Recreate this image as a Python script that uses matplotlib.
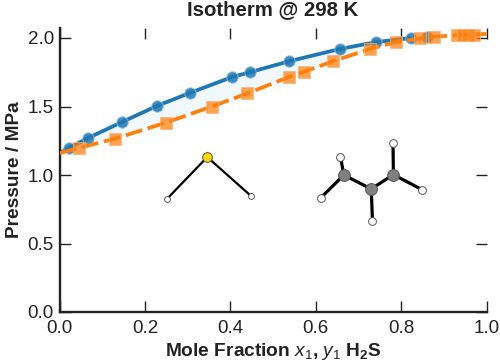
import matplotlib
matplotlib.use("Agg")
import matplotlib.pyplot as plt
import numpy as np

plt.rcParams['font.family'] = ['Liberation Sans', 'DejaVu Sans']
plt.rcParams['mathtext.fontset'] = 'custom'
plt.rcParams['mathtext.rm'] = 'Liberation Sans'
plt.rcParams['mathtext.it'] = 'Liberation Sans:italic'
plt.rcParams['mathtext.bf'] = 'Liberation Sans:bold'

x_liquid = [0.022, 0.067, 0.146, 0.228, 0.306, 0.404, 0.446, 0.537, 0.657, 0.741, 0.823, 0.861]
p_liquid = [1.197, 1.27, 1.386, 1.504, 1.60, 1.715, 1.75, 1.83, 1.92, 1.97, 2.0, 2.01]
x_vapor = [0.045, 0.13, 0.249, 0.357, 0.44, 0.537, 0.573, 0.64, 0.727, 0.787, 0.845, 0.877,
           0.93, 0.945, 0.957, 0.97]
p_vapor = [1.197, 1.265, 1.382, 1.50, 1.596, 1.715, 1.754, 1.83, 1.92, 1.97, 1.997, 2.01,
           2.02, 2.022, 2.024, 2.025]
x_start, p_start = 0.0, 1.16
x_end, p_end = 1.0, 2.03

xticks = [0.0, 0.2, 0.4, 0.6, 0.8, 1.0]
yticks = [0.0, 0.5, 1.0, 1.5, 2.0]

s_atom = (0.346, 1.131)
h2s_h = [(0.251, 0.823), (0.4485, 0.847)]
c_atoms = [(0.666, 1.0), (0.730, 0.898), (0.782, 1.003)]
c_h = [(0.658, 1.131), (0.612, 0.834), (0.733, 0.664), (0.781, 1.236), (0.849, 0.893)]
c_h_parent = [0, 0, 1, 2, 2]

BLUE = '#1f77b4'
ORANGE = '#ff7f0e'

fig = plt.figure(figsize=(5.0, 3.62), dpi=100)
ax = fig.add_axes([59.5 / 500, 1 - 312 / 362, 427 / 500, 284 / 362])

lx = np.array([x_start] + x_liquid + x_vapor[-1:] + [x_end])
ly = np.array([p_start] + p_liquid + p_vapor[-1:] + [p_end])
vx = np.array([x_start] + x_vapor + [x_end])
vy = np.array([p_start] + p_vapor + [p_end])

grid = np.union1d(lx, vx)
ax.fill_between(grid, np.interp(grid, lx, ly), np.interp(grid, vx, vy),
                color='#f0f8fd', lw=0, zorder=1)
ax.plot(lx[:-3], ly[:-3], color=BLUE, lw=2.7, zorder=2, solid_capstyle='butt')
ax.plot(x_liquid, p_liquid, 'o', ms=8.2, mfc=BLUE, mec='#8fbfdd', mew=0.7, alpha=0.85, zorder=3)
ax.plot(vx, vy, color=ORANGE, lw=2.7, dashes=(4.6, 1.5), zorder=4)
ax.plot(x_vapor, p_vapor, 's', ms=8.3, mfc=ORANGE, mec='#ffb070', mew=0.7, alpha=0.72, zorder=5)

# molecules
for h in h2s_h:
    ax.plot([s_atom[0], h[0]], [s_atom[1], h[1]], color='black', lw=1.6, zorder=6)
ax.plot(*zip(*h2s_h), 'o', ms=4.2, mfc='white', mec='#555555', mew=0.7, zorder=7)
ax.plot(*s_atom, 'o', ms=7, mfc='#ffd700', mec='#555555', mew=0.7, zorder=7)
for i in range(len(c_atoms) - 1):
    ax.plot(*zip(c_atoms[i], c_atoms[i + 1]), color='black', lw=2.3, zorder=6)
for h, parent in zip(c_h, c_h_parent):
    ax.plot(*zip(c_atoms[parent], h), color='black', lw=2.3, zorder=6)
ax.plot(*zip(*c_h), 'o', ms=5.6, mfc='white', mec='#555555', mew=0.7, zorder=7)
ax.plot(*zip(*c_atoms), 'o', ms=8.5, mfc='#808080', mec='#555555', mew=0.7, zorder=7)

ax.set_xlim(0, 1)
ax.set_ylim(0, 284 / 137)
ax.set_xticks(xticks)
ax.set_yticks(yticks)
ax.set_xticklabels([f'{t:.1f}' for t in xticks])
ax.set_yticklabels([f'{t:.1f}' for t in yticks])
ax.tick_params(axis='both', direction='in', length=8, width=1.0, labelsize=13.5,
               top=True, right=True, color='#222222', labelcolor='#222222')
ax.tick_params(axis='x', pad=6)
ax.tick_params(axis='y', pad=4)
ax.spines['top'].set_visible(False)
ax.spines['right'].set_visible(False)
for side in ('left', 'bottom'):
    ax.spines[side].set_linewidth(1.7)
    ax.spines[side].set_color('#222222')

ax.set_xlabel(r'Mole Fraction $\mathit{x}_1$, $\mathit{y}_1$ H$_\mathbf{2}$S', fontsize=13.8,
              fontweight='bold', color='#222222', labelpad=3)
ax.set_ylabel('Pressure / MPa', fontsize=13.8, fontweight='bold', color='#222222', labelpad=3.5)
fig.text(273 / 500, 1 - 10 / 362, 'Isotherm @ 298 K', fontsize=14.7, fontweight='bold',
         color='#222222', ha='center', va='center')

fig.savefig('out.png', dpi=100)
